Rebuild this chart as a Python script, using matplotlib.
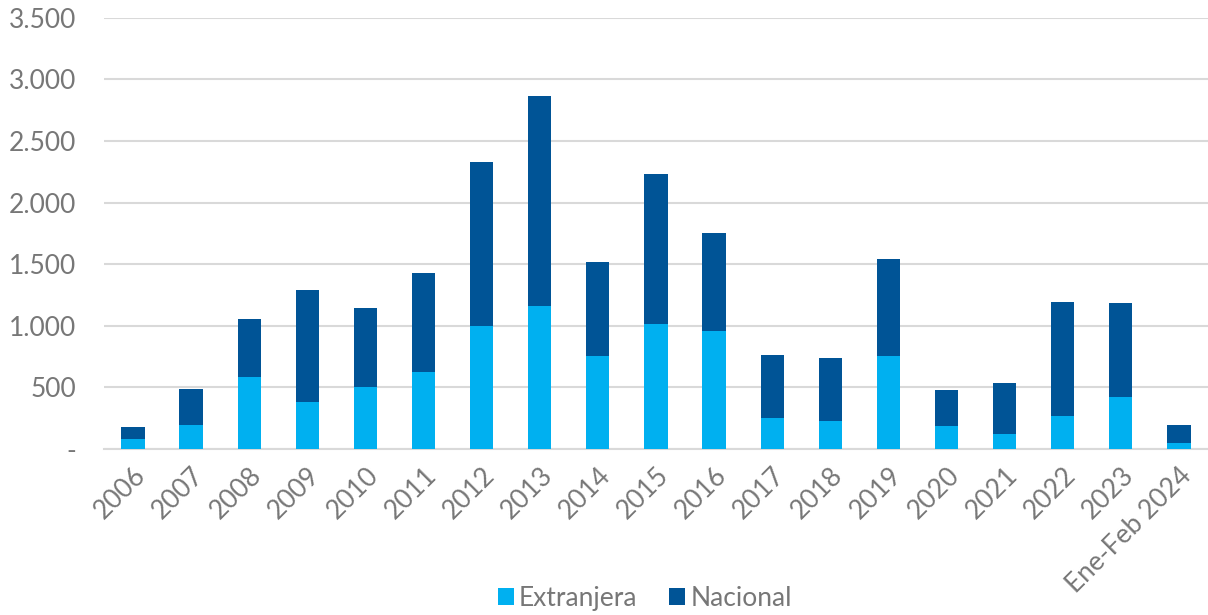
import matplotlib.pyplot as plt
from matplotlib.ticker import FuncFormatter

# Data
categories = ['2006', '2007', '2008', '2009', '2010', '2011', '2012', '2013', '2014',
              '2015', '2016', '2017', '2018', '2019', '2020', '2021', '2022', '2023',
              'Ene-Feb 2024']
totals = [175, 487, 1058, 1291, 1147, 1429, 2332, 2865, 1518,
          2235, 1750, 763, 739, 1545, 476, 536, 1196, 1185, 197]
extranjera = [81, 197, 587, 381, 506, 627, 1001, 1163, 757,
              1017, 955, 252, 224, 752, 189, 122, 270, 424, 49]
nacional = [t - e for t, e in zip(totals, extranjera)]

plt.rcParams['font.family'] = ['Lato', 'DejaVu Sans']
txt_color = '#777777'

fig = plt.figure(figsize=(12.08, 6.15), dpi=100)
ax = fig.add_axes([0.086, 0.270, 0.914, 0.701])

x = range(len(categories))
ax.bar(x, extranjera, width=0.4, color='#00b0f0', label='Extranjera', zorder=3)
ax.bar(x, nacional, width=0.4, bottom=extranjera, color='#005496', label='Nacional', zorder=3)

ax.set_ylim(0, 3500)
ax.set_xlim(-0.5, len(categories) - 0.5)
ax.set_yticks(range(0, 3501, 500))

def fmt(v, pos):
    if v == 0:
        return '-'
    return f'{int(v):,}'.replace(',', '.')

ax.yaxis.set_major_formatter(FuncFormatter(fmt))
ax.grid(axis='y', color='#d9d9d9', linewidth=1.5, zorder=0)
for s in ['top', 'right', 'left']:
    ax.spines[s].set_visible(False)
ax.spines['bottom'].set_color('#d9d9d9')
ax.spines['bottom'].set_linewidth(1.5)
ax.tick_params(axis='both', length=0, labelsize=19, labelcolor=txt_color)
ax.tick_params(axis='y', pad=20)
ax.tick_params(axis='x', pad=10)
ax.set_xticks(list(x))
ax.set_xticklabels(categories, rotation=45, ha='right', rotation_mode='anchor')

ax.legend(loc='lower center', bbox_to_anchor=(0.49, -0.43), ncol=2, frameon=False,
          fontsize=19, labelcolor=txt_color, handlelength=0.6, handleheight=0.6,
          handletextpad=0.2, columnspacing=1.2)

fig.savefig('out.png', dpi=100)
